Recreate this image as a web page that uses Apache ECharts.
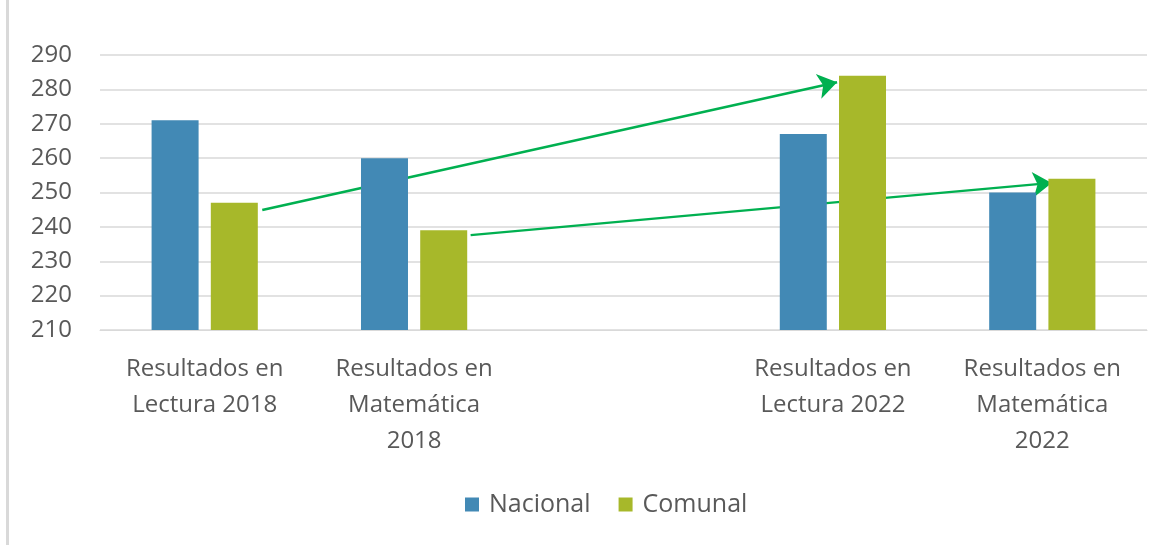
<!DOCTYPE html>
<html>
<head>
<meta charset="utf-8">
<script src="https://cdn.jsdelivr.net/npm/echarts@6/dist/echarts.min.js"></script>
<style>
    html, body { margin: 0; padding: 0; background: #fff; }
    #chart { width: 1172px; height: 546px; }
</style>
</head>
<body>
<div id="chart"></div>
<script>
// categorías (la tercera queda vacía, como en el original)
var categories = [
    'Resultados en\nLectura 2018',
    'Resultados en\nMatemática\n2018',
    '',
    'Resultados en\nLectura 2022',
    'Resultados en\nMatemática\n2022'
];
var nacional = [271, 260, null, 267, 250];
var comunal = [247, 239, null, 284, 254];
var yTicks = [210, 220, 230, 240, 250, 260, 270, 280, 290];

// flechas: [x, y] en unidades de categoría (0..5) y puntaje
var arrowFrom = [[0.775, 244.9], [1.77, 237.6]];
var arrowTo = [[3.52, 282.1], [4.545, 252.8]];

var chart = echarts.init(document.getElementById('chart'));
var font = '"Open Sans", sans-serif';

chart.setOption({
    animation: false,
    textStyle: { fontFamily: font },
    graphic: [{
        type: 'rect',
        shape: { x: 6, y: 0, width: 3, height: 545 },
        style: { fill: '#d9d9d9' }
    }],
    grid: { left: 100, right: 25, top: 55, bottom: 216 },
    legend: {
        bottom: 24,
        left: 460,
        itemWidth: 14,
        itemHeight: 14,
        itemGap: 28,
        icon: 'rect',
        textStyle: { color: '#595959', fontSize: 25, fontFamily: font, padding: [0, 0, 0, 5] },
        data: ['Nacional', 'Comunal']
    },
    xAxis: [{
        type: 'category',
        data: categories,
        axisLine: { lineStyle: { color: '#d9d9d9' } },
        axisTick: { show: false },
        axisLabel: {
            color: '#595959',
            fontSize: 24,
            lineHeight: 36,
            margin: 21,
            interval: 0
        }
    }, {
        type: 'value',
        min: 0,
        max: 5,
        show: false
    }],
    yAxis: {
        type: 'value',
        min: yTicks[0],
        max: yTicks[yTicks.length - 1],
        interval: 10,
        axisLine: { show: false },
        axisTick: { show: false },
        axisLabel: { color: '#595959', fontSize: 24, margin: 28 },
        splitLine: { lineStyle: { color: '#d9d9d9', width: 1.5 } }
    },
    series: [
        {
            name: 'Nacional',
            type: 'bar',
            data: nacional,
            barWidth: 47,
            barGap: '26%',
            itemStyle: { color: '#4289b5' }
        },
        {
            name: 'Comunal',
            type: 'bar',
            data: comunal,
            barWidth: 47,
            itemStyle: { color: '#a7b82a' }
        },
        {
            type: 'lines',
            coordinateSystem: 'cartesian2d',
            xAxisIndex: 1,
            yAxisIndex: 0,
            symbol: ['none', 'arrow'],
            symbolSize: 19,
            silent: true,
            lineStyle: { color: '#00b050', width: 2.5, opacity: 1, curveness: 0 },
            data: arrowFrom.map(function (p, i) {
                return { coords: [p, arrowTo[i]] };
            })
        }
    ]
});
</script>
</body>
</html>
